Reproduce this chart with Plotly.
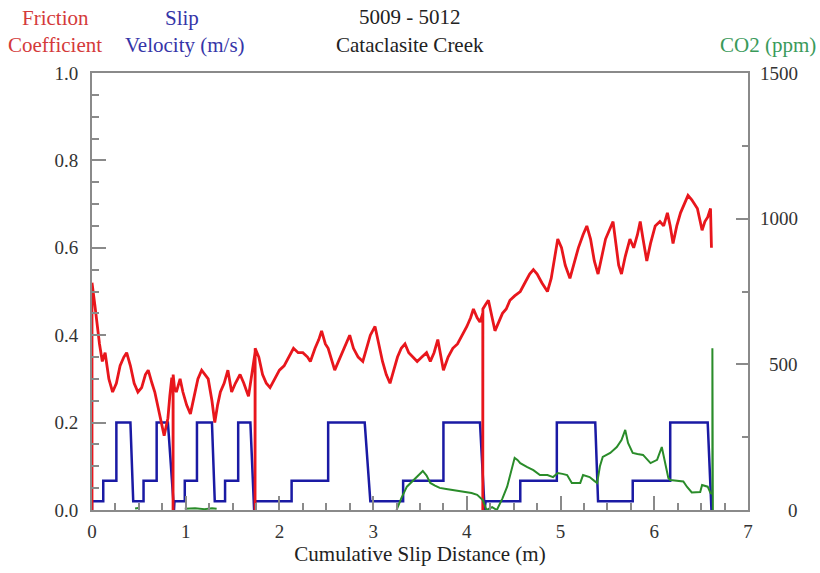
import plotly.graph_objects as go

# ---------------- data ----------------
fric_x = [0.0, 0.0, 0.03, 0.05, 0.08, 0.11, 0.14, 0.18, 0.22, 0.26, 0.30, 0.34, 0.37, 0.41, 0.45, 0.49,
          0.53, 0.57, 0.60, 0.64, 0.67, 0.71, 0.75, 0.77, 0.79, 0.81, 0.83, 0.85, 0.865, 0.865, 0.866,
          0.88, 0.90, 0.94, 0.97, 1.01, 1.05, 1.09, 1.13, 1.17, 1.21, 1.24, 1.28, 1.31, 1.34, 1.37,
          1.41, 1.45, 1.49, 1.53, 1.58, 1.62, 1.67, 1.70, 1.74, 1.74, 1.741, 1.78, 1.82, 1.86, 1.90,
          1.95, 2.00, 2.05, 2.10, 2.15, 2.20, 2.25, 2.30, 2.33, 2.38, 2.42, 2.45, 2.49, 2.52, 2.56,
          2.59, 2.63, 2.67, 2.71, 2.75, 2.79, 2.84, 2.89, 2.93, 2.97, 3.02, 3.06, 3.10, 3.14, 3.18,
          3.22, 3.26, 3.30, 3.34, 3.38, 3.43, 3.47, 3.52, 3.57, 3.61, 3.65, 3.69, 3.72, 3.75, 3.80,
          3.85, 3.90, 3.95, 4.00, 4.04, 4.07, 4.11, 4.14, 4.17, 4.17, 4.171, 4.20, 4.23, 4.27, 4.30,
          4.34, 4.38, 4.42, 4.46, 4.51, 4.57, 4.62, 4.67, 4.71, 4.75, 4.80, 4.86, 4.90, 4.94, 4.97,
          5.01, 5.05, 5.10, 5.14, 5.19, 5.24, 5.28, 5.32, 5.36, 5.40, 5.44, 5.48, 5.52, 5.56, 5.59,
          5.62, 5.65, 5.69, 5.74, 5.78, 5.82, 5.85, 5.88, 5.92, 5.96, 6.01, 6.06, 6.10, 6.14, 6.17,
          6.20, 6.24, 6.28, 6.32, 6.36, 6.40, 6.43, 6.46, 6.49, 6.51, 6.54, 6.57, 6.60, 6.61]
fric_y = [0.0, 0.52, 0.47, 0.43, 0.38, 0.34, 0.36, 0.30, 0.27, 0.29, 0.33, 0.35, 0.36, 0.33, 0.29, 0.27,
          0.28, 0.31, 0.32, 0.29, 0.27, 0.23, 0.19, 0.17, 0.19, 0.21, 0.26, 0.30, 0.30, 0.0, 0.31,
          0.28, 0.27, 0.30, 0.27, 0.24, 0.22, 0.26, 0.30, 0.32, 0.31, 0.30, 0.25, 0.20, 0.24, 0.27,
          0.29, 0.32, 0.27, 0.29, 0.31, 0.29, 0.26, 0.30, 0.36, 0.0, 0.37, 0.35, 0.31, 0.29, 0.28,
          0.30, 0.32, 0.33, 0.35, 0.37, 0.36, 0.36, 0.35, 0.34, 0.37, 0.39, 0.41, 0.38, 0.37, 0.34,
          0.32, 0.34, 0.36, 0.38, 0.40, 0.37, 0.35, 0.34, 0.37, 0.40, 0.42, 0.38, 0.34, 0.31, 0.29,
          0.32, 0.35, 0.37, 0.38, 0.36, 0.35, 0.34, 0.35, 0.36, 0.34, 0.36, 0.39, 0.35, 0.32, 0.35,
          0.37, 0.38, 0.40, 0.42, 0.44, 0.46, 0.44, 0.43, 0.45, 0.0, 0.46, 0.47, 0.48, 0.44, 0.41,
          0.43, 0.45, 0.46, 0.48, 0.49, 0.50, 0.52, 0.54, 0.55, 0.54, 0.52, 0.50, 0.53, 0.58, 0.62,
          0.60, 0.56, 0.53, 0.56, 0.60, 0.63, 0.65, 0.62, 0.57, 0.54, 0.58, 0.62, 0.64, 0.66, 0.61,
          0.56, 0.54, 0.58, 0.62, 0.60, 0.63, 0.66, 0.62, 0.57, 0.61, 0.65, 0.66, 0.65, 0.68, 0.65,
          0.61, 0.65, 0.68, 0.70, 0.72, 0.71, 0.70, 0.69, 0.66, 0.64, 0.66, 0.67, 0.69, 0.60]

vel_x = [0.0, 0.0, 0.12, 0.12, 0.26, 0.26, 0.41, 0.44, 0.55, 0.55, 0.69, 0.69, 0.81, 0.875, 0.88,
         0.99, 0.99, 1.12, 1.12, 1.28, 1.31, 1.42, 1.42, 1.56, 1.56, 1.69, 1.73, 1.74, 2.13, 2.13,
         2.52, 2.52, 2.91, 2.97, 3.32, 3.32, 3.75, 3.75, 4.14, 4.19, 4.20, 4.57, 4.57, 4.96, 4.96,
         5.37, 5.40, 5.77, 5.77, 6.17, 6.17, 6.57, 6.61]
vel_y = [0.0, 0.02, 0.02, 0.067, 0.067, 0.2, 0.2, 0.02, 0.02, 0.067, 0.067, 0.2, 0.2, 0.0, 0.02,
         0.02, 0.067, 0.067, 0.2, 0.2, 0.02, 0.02, 0.067, 0.067, 0.2, 0.2, 0.0, 0.02, 0.02, 0.067,
         0.067, 0.2, 0.2, 0.02, 0.02, 0.067, 0.067, 0.2, 0.2, 0.0, 0.02, 0.02, 0.067, 0.067, 0.2,
         0.2, 0.02, 0.02, 0.067, 0.067, 0.2, 0.2, 0.0]

co2_x = [0.46, 0.51, None,
         0.99, 1.10, 1.20, 1.28, 1.33, None,
         3.25, 3.30, 3.36, 3.42, 3.47, 3.53, 3.57, 3.61, 3.66, 3.71, 3.78, 3.85, 3.92, 4.00, 4.05,
         4.11, 4.17, 4.21, 4.27, 4.32, 4.38, 4.43, 4.48, 4.51, 4.54, 4.57, 4.64, 4.71, 4.78, 4.86,
         4.92, 4.97, 5.02, 5.07, 5.12, 5.21, 5.24, 5.31, 5.36, 5.39, 5.42, 5.45, 5.53, 5.60, 5.65,
         5.69, 5.72, 5.77, 5.82, 5.88, 5.96, 6.03, 6.08, 6.12, 6.15, 6.17, 6.25, 6.31, 6.35, 6.40,
         6.49, 6.51, 6.57, 6.60, 6.62, 6.62, 6.625]
co2_y = [5, 8, None,
         4, 6, 3, 6, 4, None,
         0, 40, 80, 100, 113, 134, 118, 93, 84, 76, 72, 69, 66, 62, 58,
         52, 34, 0, 10, 0, 40, 80, 140, 179, 172, 161, 148, 137, 120, 120,
         113, 127, 124, 120, 93, 93, 120, 113, 100, 93, 150, 182, 196, 216, 240,
         275, 230, 196, 192, 189, 161, 172, 216, 161, 110, 103, 100, 98, 79, 60,
         62, 86, 80, 58, 55, 555, 0]

x_ticks = [0, 1, 2, 3, 4, 5, 6, 7]
y_ticks = [0.0, 0.2, 0.4, 0.6, 0.8, 1.0]
co2_ticks = [0, 500, 1000, 1500]

# ---------------- styling ----------------
SERIF = "Liberation Serif, Times New Roman, serif"
AX = "#8a8a8a"
TICKFONT = dict(family=SERIF, size=19, color="#333333")
RED = "#e8161c"
BLUE = "#1a1aa4"
GREEN = "#2a8c2a"

fig = go.Figure()
fig.add_trace(go.Scatter(x=vel_x, y=vel_y, mode="lines", line=dict(color=BLUE, width=2.5),
                         showlegend=False, hoverinfo="skip"))
fig.add_trace(go.Scatter(x=fric_x, y=fric_y, mode="lines", line=dict(color=RED, width=2.8),
                         showlegend=False, hoverinfo="skip"))
fig.add_trace(go.Scatter(x=co2_x, y=co2_y, mode="lines", yaxis="y2", connectgaps=False,
                         line=dict(color=GREEN, width=2), showlegend=False, hoverinfo="skip"))

fig.update_layout(
    width=820, height=573,
    margin=dict(l=92, r=72, t=73, b=63),
    paper_bgcolor="white", plot_bgcolor="white",
    font=dict(family=SERIF),
    xaxis=dict(range=[0, 7], tickvals=x_ticks, ticks="inside", ticklen=14, tickwidth=1.5,
               tickcolor=AX, showline=True, linecolor=AX, linewidth=2, mirror=True,
               showgrid=False, zeroline=False, tickfont=TICKFONT, ticklabelstandoff=3,
               minor=dict(dtick=0.25, tick0=0, ticks="inside", ticklen=7, tickcolor=AX, tickwidth=1.5,
                          showgrid=False),
               title=dict(text="Cumulative Slip Distance (m)", font=dict(family=SERIF, size=21, color="#222"),
                          standoff=5)),
    yaxis=dict(range=[0, 1], tickvals=y_ticks, tickformat=".1f", ticks="inside", ticklen=14,
               tickwidth=1.5, tickcolor=AX, showline=True, linecolor=AX, linewidth=2,
               showgrid=False, zeroline=False, tickfont=TICKFONT, ticklabelstandoff=8,
               minor=dict(dtick=0.05, tick0=0, ticks="inside", ticklen=7, tickcolor=AX, tickwidth=1.5,
                          showgrid=False)),
    yaxis2=dict(range=[0, 1500], overlaying="y", side="right", tickvals=co2_ticks, ticks="inside",
                ticklen=12, tickwidth=1.5, tickcolor=AX, showline=True, linecolor=AX, linewidth=2,
                showgrid=False, zeroline=False, showticklabels=False,
                minor=dict(dtick=250, tick0=0, ticks="inside", ticklen=6, tickcolor=AX, tickwidth=1.5,
                           showgrid=False)),
)

# right-aligned CO2 tick labels
for v in co2_ticks:
    fig.add_annotation(x=(800 - 92) / 656, xref="paper", y=v, yref="y2", text=str(v),
                       showarrow=False, xanchor="right", yanchor="middle", font=TICKFONT)

def px2paper(px, py):
    return (px - 92) / 656, (510 - py) / 437

titles = [
    ("Friction", 55, 18, "#d43a3a"),
    ("Coefficient", 55, 45, "#d43a3a"),
    ("Slip", 182, 18, "#3535a8"),
    ("Velocity (m/s)", 185, 45, "#3535a8"),
    ("5009 - 5012", 410, 17, "#222222"),
    ("Cataclasite Creek", 410, 45, "#222222"),
    ("CO2 (ppm)", 768, 45, "#3a9a5a"),
]
for txt, px, py, col in titles:
    xp, yp = px2paper(px, py)
    fig.add_annotation(x=xp, y=yp, xref="paper", yref="paper", text=txt, showarrow=False,
                       xanchor="center", yanchor="middle",
                       font=dict(family=SERIF, size=21, color=col))

fig.write_html("out.html")
